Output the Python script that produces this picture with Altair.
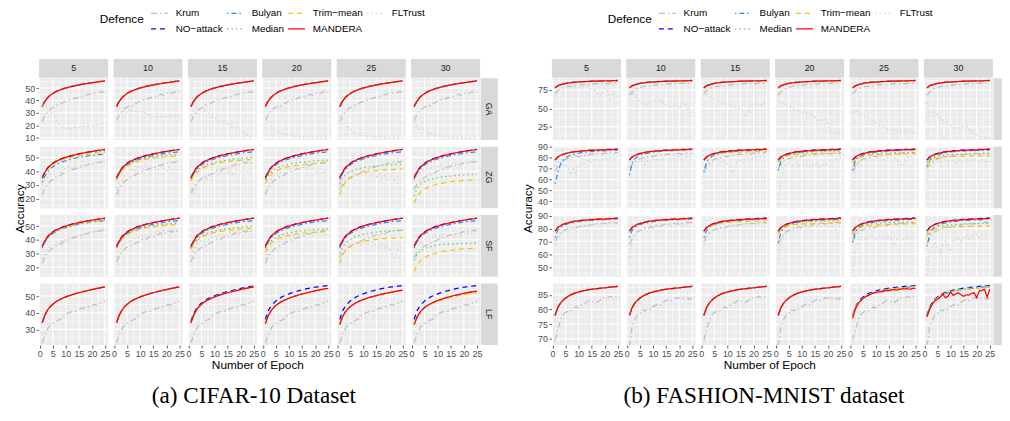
import altair as alt
import pandas as pd

# ---------------- categories / ticks ----------------
EPOCHS = list(range(1, 26))
COLUMNS = [5, 10, 15, 20, 25, 30]
ATTACKS = ["GA", "ZG", "SF", "LF"]
DRAW_ORDER = ["Krum", "NO−attack", "Bulyan", "Median", "Trim−mean", "MANDERA", "FLTrust"]
COLORS = ["#BEBEBE", "#0000FF", "#1E90FF", "#66CC66", "#FFC000", "#FF0000", "#D3D3D3"]
DASHES = [[6, 3, 1.5, 3], [5, 4], [1.5, 3, 5, 3], [1.5, 3], [5, 4], [1, 0], [1.5, 3]]

X_TICKS = [0, 5, 10, 15, 20, 25]
X_MINOR = [2.5, 7.5, 12.5, 17.5, 22.5]

C_Y_TICKS = {"GA": [10, 20, 30, 40, 50], "ZG": [20, 30, 40, 50], "SF": [20, 30, 40, 50], "LF": [30, 40, 50]}
C_Y_MINOR = {"GA": [15, 25, 35, 45, 55], "ZG": [15, 25, 35, 45, 55], "SF": [15, 25, 35, 45, 55], "LF": [25, 35, 45, 55]}
C_Y_DOMAIN = {"GA": [8.1, 57.9], "ZG": [13.1, 57.8], "SF": [13.1, 58.1], "LF": [20.6, 57.6]}
F_Y_TICKS = {"GA": [25, 50, 75], "ZG": [40, 50, 60, 70, 80, 90], "SF": [50, 60, 70, 80, 90], "LF": [70, 75, 80, 85]}
F_Y_MINOR = {"GA": [12.5, 37.5, 62.5, 87.5], "ZG": [35, 45, 55, 65, 75, 85], "SF": [45, 55, 65, 75, 85], "LF": [72.5, 77.5, 82.5, 87.5]}
F_Y_DOMAIN = {"GA": [7.0, 91.0], "ZG": [33.5, 90.3], "SF": [42.5, 90.5], "LF": [67.9, 88.9]}

# ---------------- CIFAR-10 series ----------------
C_MAIN = [35.0, 39.2, 42.0, 44.0, 45.6, 46.8, 47.8, 48.6, 49.4, 50.0, 50.6, 51.1, 51.6, 52.1, 52.5, 52.9, 53.3, 53.6, 54.0, 54.3, 54.6, 54.9, 55.2, 55.5, 55.8]
C_NOATT = [35.3, 39.5, 42.3, 44.3, 45.8, 47.0, 48.0, 48.8, 49.6, 50.2, 50.8, 51.3, 51.8, 52.2, 52.6, 53.0, 53.4, 53.7, 54.1, 54.4, 54.7, 55.0, 55.3, 55.6, 55.9]
C_KRUM_A = [23.0, 27.5, 30.5, 32.5, 34.0, 35.5, 36.5, 37.0, 38.5, 39.0, 40.0, 40.5, 41.5, 42.0, 42.5, 43.0, 44.0, 44.5, 45.0, 45.5, 46.0, 46.0, 46.5, 47.0, 47.0]
C_KRUM_B = [24.0, 28.0, 31.5, 33.0, 34.5, 36.0, 35.5, 37.5, 38.0, 39.5, 40.5, 40.0, 41.5, 42.5, 42.0, 43.5, 44.0, 45.0, 44.0, 45.5, 46.5, 45.5, 47.0, 46.0, 47.0]
C_KRUM_C = [27.0, 30.5, 32.5, 34.0, 35.5, 36.5, 37.0, 38.5, 39.0, 40.0, 41.0, 41.5, 42.0, 43.0, 43.5, 44.0, 44.5, 44.0, 45.5, 46.0, 45.5, 46.5, 47.0, 46.5, 47.5]
C_KRUM_LF = [22.0, 26.5, 30.0, 32.5, 33.5, 34.5, 35.5, 36.0, 38.0, 39.0, 40.0, 40.5, 41.0, 41.0, 42.0, 42.5, 43.0, 43.0, 44.0, 44.5, 45.0, 44.5, 45.5, 46.5, 47.0]

C_FLT_GA5 = [36, 37, 35, 32, 28, 25, 22, 19.5, 18, 17.5, 17.5, 17.5, 18, 18, 18.5, 18.5, 19, 19, 19.5, 19.5, 20, 20, 20.5, 21, 21]
C_FLT_GA10 = [33, 35, 31, 34, 30, 33, 31, 32, 31, 31, 30, 30, 29, 27.5, 27, 27, 26.5, 27, 27, 27, 27.5, 27.5, 27, 28, 28]
C_FLT_GA15 = [28, 32, 34, 34, 33, 32, 30.5, 29, 27.5, 26, 25, 24, 23, 22, 21, 20, 19, 18, 17, 15.5, 14.5, 13, 12, 11, 10]
C_FLT_GA20 = [25, 24, 21, 18, 16, 14.5, 13.5, 12.5, 12, 11.5, 11.5, 11, 11, 11, 10.5, 11, 10.5, 10.5, 10.5, 10.5, 10, 10.5, 10.5, 10, 10]
C_FLT_GA25 = [28, 25, 22, 19, 16.5, 15, 13.5, 12.5, 12, 11.5, 11, 11, 11, 10.5, 10.5, 10.5, 10, 10, 10, 10, 10, 10, 9.5, 9.5, 9.5]
C_FLT_GA30 = [27, 18, 17, 17, 16, 14.5, 13.5, 12.5, 12, 11.5, 11, 10.5, 10.5, 10, 10, 10, 10, 10, 10, 9.5, 9.5, 10, 9.5, 9.5, 9.5]
C_FLT_ZG5 = [30, 33, 36, 38, 39, 41, 42, 38, 41, 42, 43, 41, 43, 44, 42, 44, 45, 44, 46, 45, 46, 47, 46, 47, 47]
C_FLT_ZG10 = [28, 31, 34, 37, 38, 40, 42, 39, 43, 44, 41, 45, 42, 40, 44, 43, 41, 44, 42, 40, 43, 41, 40, 41, 40]
C_FLT_ZG15 = [27, 24, 30, 33, 35, 37, 34, 38, 36, 39, 41, 38, 40, 42, 39, 41, 38, 40, 41, 39, 40, 41, 39, 40, 40]
C_FLT_ZG20 = [25, 29, 33, 36, 38, 37, 40, 39, 42, 41, 43, 42, 44, 41, 43, 45, 42, 44, 43, 41, 40, 42, 38, 40, 39]
C_FLT_ZG25 = [30, 34, 37, 39, 40, 38, 41, 40, 42, 39, 38, 40, 37, 39, 36, 38, 35, 37, 34, 36, 35, 34, 36, 35, 35]
C_FLT_ZG30 = [33, 36, 38, 40, 41, 42, 43, 42, 44, 43, 45, 44, 43, 45, 44, 46, 45, 44, 46, 45, 46, 47, 46, 47, 47]
C_FLT_SF5 = [26, 30, 33, 35, 36, 37, 37.5, 39, 40, 40, 41, 42, 42.5, 43, 43.5, 44, 44, 45, 45.5, 46, 46, 46.5, 47, 47.5, 47.5]
C_FLT_SF10 = [27, 32, 35, 37, 38, 39, 40, 41, 42, 41.5, 43, 43.5, 44, 44.5, 45, 45, 45.5, 46, 46.5, 46, 47, 47, 47.5, 47, 48]
C_FLT_SF15 = [28, 33, 36, 38, 39.5, 40, 41, 40, 42, 43, 42, 44, 43, 45, 44, 45, 46, 45, 46, 45.5, 46, 47, 46, 46.5, 46]
C_FLT_SF20 = [26, 31, 35, 37, 38, 39, 40.5, 41, 40, 42, 43, 42, 44, 43, 44, 42, 44, 45, 43, 44, 45, 44, 43, 44, 44]
C_FLT_SF25 = [30, 33, 35, 36, 37, 36, 38, 37, 36, 38, 37, 36, 35, 37, 36, 35, 37, 34, 36, 33, 30, 27, 33, 34, 35]
C_FLT_SF30 = [30, 34, 37, 39, 40, 41, 40, 42, 41, 43, 42, 44, 43, 42, 44, 43, 45, 44, 43, 45, 44, 46, 45, 46, 46]

C_BUL_Z5 = [32.0, 36.5, 39.5, 41.5, 43.0, 44.3, 45.3, 46.2, 47.0, 47.6, 48.2, 48.7, 49.2, 49.6, 50.0, 50.3, 50.6, 50.9, 51.2, 51.4, 51.6, 51.8, 52.0, 52.2, 52.4]
C_BUL_B = [34.0, 38.3, 41.1, 43.1, 44.6, 45.8, 46.8, 47.6, 48.3, 48.9, 49.5, 50.0, 50.5, 50.9, 51.3, 51.7, 52.1, 52.4, 52.7, 53.0, 53.3, 53.5, 53.7, 53.9, 54.1]
C_MED_Z5 = [35.0, 39.0, 41.8, 43.8, 45.3, 46.5, 47.5, 48.3, 49.0, 49.7, 50.2, 50.7, 51.2, 51.6, 52.0, 52.4, 52.7, 53.0, 53.3, 53.6, 53.8, 54.1, 54.3, 54.5, 54.7]
C_TRIM_Z5 = [34.5, 38.5, 41.3, 43.3, 44.8, 46.0, 47.0, 47.8, 48.5, 49.1, 49.6, 50.1, 50.5, 50.9, 51.3, 51.6, 51.9, 52.2, 52.5, 52.7, 52.9, 53.1, 53.3, 53.5, 53.6]
C_MED_Z10 = [34.5, 38.5, 41.0, 42.9, 44.3, 45.4, 46.3, 47.1, 47.8, 48.4, 48.9, 49.3, 49.7, 50.0, 50.3, 50.6, 50.9, 51.1, 51.3, 51.5, 51.7, 51.8, 51.9, 52.0, 52.1]
C_TRIM_Z10 = [34.0, 38.0, 40.5, 42.3, 43.7, 44.8, 45.7, 46.4, 47.0, 47.6, 48.1, 48.5, 48.9, 49.2, 49.5, 49.8, 50.0, 50.2, 50.4, 50.6, 50.7, 50.8, 50.9, 51.0, 51.1]
C_MED_Z15 = [34.0, 37.5, 39.8, 41.5, 42.8, 43.8, 44.6, 45.3, 45.9, 46.4, 46.8, 47.2, 47.5, 47.8, 48.1, 48.4, 48.7, 48.9, 49.1, 49.3, 49.5, 49.7, 49.9, 50.1, 50.3]
C_TRIM_Z15 = [33.0, 36.5, 38.8, 40.5, 41.8, 42.8, 43.6, 44.3, 44.9, 45.4, 45.8, 46.1, 46.4, 46.7, 47.0, 47.2, 47.4, 47.6, 47.8, 48.0, 48.1, 48.2, 48.3, 48.4, 48.5]
C_MED_Z20 = [34.0, 37.0, 39.0, 40.5, 41.7, 42.7, 43.5, 44.1, 44.6, 45.0, 45.4, 45.7, 46.0, 46.3, 46.5, 46.7, 46.9, 47.1, 47.3, 47.5, 47.6, 47.7, 47.8, 47.9, 48.0]
C_TRIM_Z20 = [31.0, 35.0, 37.3, 38.9, 40.1, 41.0, 41.8, 42.4, 42.9, 43.3, 43.7, 44.0, 44.3, 44.5, 44.7, 44.9, 45.1, 45.3, 45.4, 45.5, 45.6, 45.7, 45.8, 45.9, 46.0]
C_MED_Z25 = [31.0, 35.0, 37.0, 38.4, 39.5, 40.4, 41.1, 41.7, 42.2, 42.6, 42.9, 43.2, 43.5, 43.7, 43.9, 44.1, 44.3, 44.4, 44.5, 44.6, 44.7, 44.8, 44.9, 45.0, 45.1]
C_TRIM_Z25 = [23.0, 28.5, 31.5, 33.5, 35.0, 36.2, 37.1, 37.8, 38.4, 38.9, 39.3, 39.6, 39.9, 40.2, 40.4, 40.6, 40.8, 40.9, 41.0, 41.1, 41.2, 41.3, 41.4, 41.5, 41.6]
C_MED_Z30 = [22.0, 27.5, 30.0, 31.5, 32.6, 33.4, 34.0, 34.5, 34.9, 35.3, 35.6, 35.9, 36.1, 36.3, 36.5, 36.7, 36.9, 37.0, 37.2, 37.3, 37.4, 37.5, 37.6, 37.7, 37.8]
C_TRIM_Z30 = [17.0, 21.5, 24.0, 25.8, 27.1, 28.1, 28.9, 29.6, 30.2, 30.7, 31.1, 31.5, 31.8, 32.1, 32.4, 32.6, 32.8, 33.0, 33.2, 33.4, 33.5, 33.6, 33.7, 33.8, 33.9]
C_TRIM_S5 = [34.8, 38.8, 41.6, 43.6, 45.1, 46.3, 47.3, 48.1, 48.8, 49.4, 49.9, 50.4, 50.9, 51.3, 51.7, 52.1, 52.4, 52.7, 53.0, 53.3, 53.5, 53.7, 53.9, 54.1, 54.3]
C_MED_S25 = [30.0, 34.5, 37.0, 38.8, 40.2, 41.3, 42.2, 42.9, 43.5, 44.0, 44.4, 44.8, 45.1, 45.4, 45.7, 45.9, 46.1, 46.3, 46.5, 46.6, 46.7, 46.8, 46.9, 47.0, 47.1]
C_MED_S30 = [25.0, 29.0, 31.2, 32.6, 33.6, 34.3, 34.9, 35.4, 35.8, 36.1, 36.4, 36.6, 36.8, 36.9, 37.0, 37.1, 37.2, 37.3, 37.3, 37.4, 37.4, 37.5, 37.5, 37.6, 37.6]

C_LF_MAIN = [34.0, 38.5, 41.5, 43.5, 45.0, 46.3, 47.3, 48.1, 48.8, 49.5, 50.1, 50.6, 51.1, 51.6, 52.0, 52.4, 52.8, 53.2, 53.6, 53.9, 54.3, 54.6, 54.9, 55.2, 55.5]
C_LF_NA_MID = [35.0, 39.5, 42.3, 44.3, 45.8, 47.0, 48.0, 48.8, 49.5, 50.2, 50.8, 51.3, 51.8, 52.3, 52.7, 53.1, 53.5, 53.9, 54.3, 54.6, 54.9, 55.2, 55.5, 55.8, 56.0]
C_LF_NA_HIGH = [36.0, 41.0, 43.5, 45.5, 47.0, 48.2, 49.2, 50.0, 50.7, 51.3, 51.9, 52.4, 52.9, 53.3, 53.7, 54.1, 54.4, 54.7, 55.0, 55.3, 55.5, 55.7, 55.9, 56.1, 56.3]
C_LF_LOW1 = [33.5, 38.0, 40.8, 42.8, 44.3, 45.5, 46.5, 47.3, 48.0, 48.7, 49.3, 49.8, 50.3, 50.8, 51.2, 51.6, 52.0, 52.4, 52.8, 53.1, 53.5, 53.8, 54.1, 54.4, 54.6]
C_LF_LOW2 = [33.0, 37.5, 40.2, 42.2, 43.6, 44.8, 45.8, 46.6, 47.3, 47.9, 48.5, 49.0, 49.5, 49.9, 50.3, 50.7, 51.1, 51.5, 51.8, 52.1, 52.4, 52.7, 53.0, 53.3, 53.5]
C_LF_LOW3 = [33.0, 37.0, 39.8, 41.7, 43.2, 44.3, 45.2, 46.0, 46.7, 47.3, 47.9, 48.4, 48.9, 49.4, 49.8, 50.2, 50.6, 50.9, 51.3, 51.6, 51.9, 52.2, 52.5, 52.8, 53.0]
C_LF_Y30 = [33.0, 36.8, 39.5, 41.4, 42.8, 43.9, 44.8, 45.6, 46.3, 46.9, 47.4, 47.9, 48.4, 48.8, 49.2, 49.6, 50.0, 50.3, 50.6, 50.9, 51.2, 51.4, 51.6, 51.8, 52.0]
C_LF_MED30 = [33.0, 37.2, 40.0, 41.8, 43.2, 44.3, 45.2, 46.0, 46.6, 47.2, 47.7, 48.2, 48.7, 49.1, 49.5, 49.9, 50.3, 50.6, 50.9, 51.2, 51.5, 51.8, 52.1, 52.3, 52.5]

# ---------------- FASHION-MNIST series ----------------
F_MAIN = [78.0, 80.6, 82.1, 83.1, 83.9, 84.5, 85.0, 85.4, 85.7, 86.0, 86.2, 86.4, 86.6, 86.8, 86.9, 87.0, 87.1, 87.2, 87.3, 87.4, 87.5, 87.6, 87.7, 87.8, 87.9]
F_NOATT = [78.2, 80.8, 82.3, 83.3, 84.1, 84.7, 85.2, 85.6, 85.9, 86.2, 86.4, 86.6, 86.8, 87.0, 87.1, 87.2, 87.3, 87.4, 87.5, 87.6, 87.7, 87.8, 87.9, 88.0, 88.1]
F_KRUM_A = [70, 74, 76.5, 78, 79, 80, 80, 81, 80.5, 81.5, 82, 82, 83, 82.5, 83, 83.5, 84, 83.5, 84, 84, 83.5, 84.5, 84.5, 84.5, 84]
F_KRUM_B = [68, 72, 75, 77.5, 78.5, 79.5, 80.5, 80, 81.5, 81, 82, 82.5, 82, 83, 83.5, 83, 84, 84, 83.5, 84.5, 84, 84.5, 85, 84.5, 85]
F_KRUM_LF1 = [69.5, 73.0, 76.0, 78.0, 79.0, 79.5, 79.5, 80.0, 81.0, 80.5, 81.5, 82.0, 82.5, 83.0, 82.5, 83.0, 82.5, 83.0, 84.0, 84.0, 84.0, 84.5, 84.0, 84.5, 84.5]
F_KRUM_LF2 = [67.5, 74.0, 76.5, 78.0, 78.5, 80.0, 79.5, 80.5, 80.0, 81.0, 81.5, 82.0, 81.5, 82.5, 83.0, 83.5, 83.0, 83.5, 84.0, 84.0, 83.5, 84.0, 84.0, 83.5, 84.0]

F_FLT_GA5 = [70, 74, 76, 78, 79, 80, 77, 79, 80, 78, 77, 79, 80, 78, 76, 75, 72, 66, 70, 78, 74, 63, 72, 70, 66]
F_FLT_GA10 = [74, 71, 68, 64, 60, 57, 55, 56, 58, 60, 62, 61, 60, 58, 55, 53, 51, 53, 55, 50, 55, 58, 52, 47, 40]
F_FLT_GA15 = [75, 70, 66, 64, 62, 61, 60, 58, 56, 55, 54, 52, 51, 50, 49, 45, 38, 48, 55, 56, 57, 56, 55, 58, 55]
F_FLT_GA20 = [61, 58, 57, 56, 54, 51, 49, 48, 46, 45, 44, 43, 42, 41, 38, 34, 33, 35, 36, 30, 18, 16, 17, 16, 18]
F_FLT_GA25 = [44, 47, 45, 43, 41, 39, 37, 35, 32, 29, 27, 26, 24, 22, 21, 21, 20, 19, 20, 19, 19, 18, 17, 17, 17]
F_FLT_GA30 = [58, 40, 45, 38, 42, 37, 34, 33, 30, 27, 24, 23, 24, 25, 24, 26, 22, 17, 15, 13, 12, 11, 10, 10, 10]
F_FLT_ZG5 = [72, 75, 78, 79, 73, 70, 64, 72, 63, 74, 76, 75, 77, 78, 76, 78, 79, 77, 78, 80, 79, 80, 79, 80, 81]
F_FLT_ZG10 = [70, 73, 76, 78, 75, 77, 74, 78, 76, 79, 78, 80, 77, 79, 80, 78, 80, 79, 80, 81, 79, 80, 81, 80, 81]
F_FLT_ZG15 = [62, 70, 74, 76, 77, 78, 76, 78, 77, 74, 72, 66, 73, 77, 78, 79, 78, 80, 79, 80, 81, 80, 81, 81, 82]
F_FLT_ZG20 = [37, 55, 72, 74, 75, 73, 74, 75, 72, 74, 73, 75, 72, 74, 73, 75, 72, 74, 73, 77, 78, 76, 79, 80, 80]
F_FLT_ZG25 = [53, 70, 76, 78, 79, 77, 79, 80, 78, 80, 79, 81, 78, 80, 81, 79, 80, 78, 75, 72, 78, 80, 81, 80, 81]
F_FLT_ZG30 = [60, 70, 74, 76, 77, 75, 77, 78, 76, 78, 77, 75, 78, 77, 76, 78, 77, 76, 78, 77, 76, 78, 77, 76, 77]
F_FLT_SF5 = [67, 72, 75, 77, 78, 79, 79, 80, 80, 81, 81, 82, 82, 82, 83, 83, 83, 83, 84, 84, 84, 84, 84, 85, 85]
F_FLT_SF10 = [57, 70, 75, 77, 78, 79, 80, 79, 81, 80, 82, 81, 82, 83, 82, 83, 82, 84, 83, 83, 84, 83, 84, 84, 84]
F_FLT_SF15 = [67, 73, 76, 78, 79, 80, 79, 81, 80, 82, 81, 82, 83, 82, 83, 84, 83, 84, 83, 84, 84, 85, 84, 85, 85]
F_FLT_SF20 = [56, 68, 74, 77, 78, 79, 78, 80, 79, 80, 81, 80, 81, 82, 81, 82, 81, 82, 83, 82, 81, 82, 80, 81, 81]
F_FLT_SF25 = [47, 62, 70, 73, 74, 72, 74, 75, 73, 72, 74, 73, 75, 72, 74, 70, 67, 72, 74, 73, 71, 74, 72, 74, 75]
F_FLT_SF30 = [44, 62, 66, 70, 64, 60, 68, 70, 66, 62, 72, 70, 74, 70, 73, 75, 72, 74, 75, 76, 73, 75, 74, 76, 75]

F_BUL_Z5 = [56.0, 66.0, 73.5, 77.5, 80.0, 81.5, 82.5, 83.2, 83.8, 84.3, 84.7, 85.0, 85.3, 85.6, 85.8, 86.0, 86.2, 86.3, 86.5, 86.6, 86.7, 86.8, 86.9, 87.0, 87.1]
F_BUL_Z10 = [64.0, 75.0, 79.0, 81.0, 82.3, 83.2, 83.9, 84.4, 84.8, 85.2, 85.5, 85.8, 86.0, 86.2, 86.4, 86.6, 86.7, 86.9, 87.0, 87.1, 87.2, 87.3, 87.4, 87.5, 87.6]
F_BUL_Z15 = [66.5, 76.0, 79.5, 81.3, 82.5, 83.4, 84.0, 84.5, 84.9, 85.2, 85.5, 85.8, 86.0, 86.2, 86.4, 86.5, 86.7, 86.8, 86.9, 87.0, 87.1, 87.2, 87.3, 87.4, 87.5]
F_BUL_Z20 = [68.5, 76.5, 79.8, 81.5, 82.7, 83.5, 84.1, 84.6, 85.0, 85.3, 85.6, 85.8, 86.0, 86.2, 86.4, 86.5, 86.6, 86.7, 86.8, 86.9, 87.0, 87.1, 87.2, 87.3, 87.4]
F_BUL_Z30 = [72.0, 77.5, 80.3, 81.8, 82.9, 83.7, 84.3, 84.7, 85.1, 85.4, 85.6, 85.8, 86.0, 86.2, 86.3, 86.4, 86.5, 86.6, 86.7, 86.8, 86.9, 87.0, 87.1, 87.2, 87.3]
F_BUL_S1 = [73.0, 78.5, 80.8, 82.1, 83.0, 83.7, 84.2, 84.6, 85.0, 85.3, 85.6, 85.8, 86.0, 86.2, 86.4, 86.5, 86.7, 86.8, 86.9, 87.0, 87.1, 87.2, 87.3, 87.4, 87.5]
F_BUL_S2 = [69.0, 77.0, 80.0, 81.6, 82.7, 83.5, 84.1, 84.6, 85.0, 85.3, 85.6, 85.8, 86.0, 86.2, 86.3, 86.4, 86.5, 86.6, 86.7, 86.8, 86.9, 87.0, 87.1, 87.2, 87.3]
F_BUL_S3 = [66.0, 75.5, 79.3, 81.2, 82.4, 83.3, 83.9, 84.4, 84.8, 85.1, 85.4, 85.6, 85.8, 86.0, 86.2, 86.3, 86.4, 86.5, 86.6, 86.7, 86.8, 86.9, 87.0, 87.1, 87.2]
F_TRIM_15 = [77.5, 80.0, 81.5, 82.5, 83.1, 83.6, 84.0, 84.3, 84.5, 84.7, 84.9, 85.0, 85.1, 85.2, 85.3, 85.4, 85.5, 85.5, 85.6, 85.6, 85.7, 85.7, 85.8, 85.8, 85.9]
F_TRIM_20 = [76.0, 79.0, 80.5, 81.5, 82.2, 82.7, 83.0, 83.2, 83.4, 83.5, 83.6, 83.7, 83.8, 83.8, 83.9, 84.0, 84.0, 84.1, 84.1, 84.2, 84.2, 84.3, 84.3, 84.4, 84.4]
F_MED_20 = [77.0, 80.0, 81.5, 82.5, 83.2, 83.7, 84.1, 84.4, 84.7, 84.9, 85.1, 85.2, 85.3, 85.4, 85.5, 85.6, 85.7, 85.8, 85.9, 85.9, 86.0, 86.0, 86.1, 86.1, 86.2]
F_TRIM_25 = [75.0, 78.0, 79.7, 80.7, 81.3, 81.8, 82.1, 82.4, 82.6, 82.8, 82.9, 83.0, 83.1, 83.2, 83.3, 83.4, 83.4, 83.5, 83.5, 83.6, 83.6, 83.7, 83.7, 83.8, 83.8]
F_MED_25 = [76.0, 79.0, 80.7, 81.8, 82.5, 83.0, 83.4, 83.7, 83.9, 84.1, 84.2, 84.3, 84.4, 84.5, 84.6, 84.6, 84.7, 84.7, 84.8, 84.8, 84.9, 84.9, 85.0, 85.0, 85.0]
F_TRIM_30 = [74.0, 77.0, 78.5, 79.5, 80.0, 80.4, 80.7, 80.9, 81.1, 81.2, 81.3, 81.4, 81.5, 81.5, 81.6, 81.7, 81.7, 81.8, 81.8, 81.9, 81.9, 82.0, 82.0, 82.0, 82.1]
F_MED_30 = [76.0, 78.5, 80.0, 81.0, 81.6, 82.0, 82.3, 82.6, 82.8, 83.0, 83.1, 83.2, 83.3, 83.4, 83.5, 83.6, 83.6, 83.7, 83.8, 83.8, 83.9, 83.9, 84.0, 84.0, 84.1]
F_LF_NA = [78.0, 80.8, 82.4, 83.5, 84.3, 84.9, 85.4, 85.8, 86.1, 86.4, 86.6, 86.8, 87.0, 87.1, 87.3, 87.4, 87.5, 87.6, 87.7, 87.8, 87.9, 88.0, 88.0, 88.1, 88.2]
F_LF_R25 = [77.0, 80.0, 81.8, 82.9, 83.8, 84.4, 84.8, 85.3, 85.6, 85.8, 86.0, 86.0, 86.3, 86.5, 86.4, 86.7, 86.8, 86.6, 86.9, 87.0, 87.0, 87.1, 86.9, 87.2, 87.2]
F_LF_R30 = [77.5, 80.0, 81.8, 83.0, 83.5, 84.2, 85.3, 84.0, 84.5, 86.0, 84.8, 85.3, 85.7, 85.0, 84.5, 85.0, 84.9, 85.5, 85.7, 84.0, 86.3, 86.5, 86.9, 84.2, 86.9]
F_LF_Y30 = [77.5, 80.3, 82.0, 83.1, 83.9, 84.5, 85.0, 85.4, 85.7, 86.0, 86.2, 86.4, 86.5, 86.6, 86.7, 86.8, 86.9, 87.0, 87.1, 87.2, 87.2, 87.3, 87.4, 87.5, 87.5]

# ---------------- which series goes in which panel ----------------
CIFAR_MAP = {
    "Krum": {"GA": [C_KRUM_A, C_KRUM_B, C_KRUM_A, C_KRUM_B, C_KRUM_A, C_KRUM_B],
             "ZG": [C_KRUM_A, C_KRUM_A, C_KRUM_B, C_KRUM_A, C_KRUM_C, C_KRUM_C],
             "SF": [C_KRUM_A, C_KRUM_B, C_KRUM_B, C_KRUM_A, C_KRUM_C, C_KRUM_C],
             "LF": [C_KRUM_LF] * 6},
    "NO−attack": {"GA": [C_NOATT] * 6, "ZG": [C_NOATT] * 6, "SF": [C_NOATT] * 6,
                  "LF": [C_LF_MAIN, C_LF_MAIN, C_LF_NA_MID, C_LF_NA_HIGH, C_LF_NA_HIGH, C_LF_NA_HIGH]},
    "Bulyan": {"GA": [C_MAIN] * 6, "ZG": [C_BUL_Z5] + [C_BUL_B] * 5, "SF": [C_BUL_B] * 6,
               "LF": [C_LF_MAIN] * 3 + [C_LF_LOW1, C_LF_LOW2, C_LF_LOW3]},
    "Median": {"GA": [C_MAIN] * 6,
               "ZG": [C_MED_Z5, C_MED_Z10, C_MED_Z15, C_MED_Z20, C_MED_Z25, C_MED_Z30],
               "SF": [C_MED_Z5, C_MED_Z10, C_MED_Z15, C_MED_Z20, C_MED_S25, C_MED_S30],
               "LF": [C_LF_MAIN] * 3 + [C_LF_LOW1, C_LF_LOW2, C_LF_MED30]},
    "Trim−mean": {"GA": [C_MAIN] * 6,
                  "ZG": [C_TRIM_Z5, C_TRIM_Z10, C_TRIM_Z15, C_TRIM_Z20, C_TRIM_Z25, C_TRIM_Z30],
                  "SF": [C_TRIM_S5, C_TRIM_Z10, C_TRIM_Z15, C_TRIM_Z20, C_TRIM_Z25, C_TRIM_Z30],
                  "LF": [C_LF_MAIN] * 3 + [C_LF_LOW1, C_LF_LOW2, C_LF_Y30]},
    "MANDERA": {"GA": [C_MAIN] * 6, "ZG": [C_MAIN] * 6, "SF": [C_MAIN] * 6,
                "LF": [C_LF_MAIN] * 3 + [C_LF_LOW1, C_LF_LOW2, C_LF_LOW3]},
    "FLTrust": {"GA": [C_FLT_GA5, C_FLT_GA10, C_FLT_GA15, C_FLT_GA20, C_FLT_GA25, C_FLT_GA30],
                "ZG": [C_FLT_ZG5, C_FLT_ZG10, C_FLT_ZG15, C_FLT_ZG20, C_FLT_ZG25, C_FLT_ZG30],
                "SF": [C_FLT_SF5, C_FLT_SF10, C_FLT_SF15, C_FLT_SF20, C_FLT_SF25, C_FLT_SF30],
                "LF": [None] * 6},
}
FMNIST_MAP = {
    "Krum": {"GA": [F_KRUM_A, F_KRUM_B] * 3, "ZG": [F_KRUM_B, F_KRUM_A] * 3,
             "SF": [F_KRUM_A, F_KRUM_B] * 3, "LF": [F_KRUM_LF1, F_KRUM_LF2] * 3},
    "NO−attack": {"GA": [F_NOATT] * 6, "ZG": [F_NOATT] * 6, "SF": [F_NOATT] * 6,
                  "LF": [F_MAIN] * 4 + [F_LF_NA, F_LF_NA]},
    "Bulyan": {"GA": [F_MAIN] * 6,
               "ZG": [F_BUL_Z5, F_BUL_Z10, F_BUL_Z15, F_BUL_Z20, F_BUL_Z20, F_BUL_Z30],
               "SF": [F_BUL_S1, F_BUL_S1, F_BUL_S1, F_BUL_S2, F_BUL_S2, F_BUL_S3],
               "LF": [F_MAIN] * 6},
    "Median": {"GA": [F_MAIN] * 6, "ZG": [F_MAIN] * 3 + [F_MED_20, F_MED_25, F_MED_30],
               "SF": [F_MAIN] * 3 + [F_MED_20, F_MED_25, F_MED_30], "LF": [F_MAIN] * 5 + [F_LF_NA]},
    "Trim−mean": {"GA": [F_MAIN] * 6, "ZG": [F_MAIN, F_MAIN, F_TRIM_15, F_TRIM_20, F_TRIM_25, F_TRIM_30],
                  "SF": [F_MAIN, F_MAIN, F_TRIM_15, F_TRIM_20, F_TRIM_25, F_TRIM_30],
                  "LF": [F_MAIN] * 5 + [F_LF_Y30]},
    "MANDERA": {"GA": [F_MAIN] * 6, "ZG": [F_MAIN] * 6, "SF": [F_MAIN] * 6,
                "LF": [F_MAIN] * 4 + [F_LF_R25, F_LF_R30]},
    "FLTrust": {"GA": [F_FLT_GA5, F_FLT_GA10, F_FLT_GA15, F_FLT_GA20, F_FLT_GA25, F_FLT_GA30],
                "ZG": [F_FLT_ZG5, F_FLT_ZG10, F_FLT_ZG15, F_FLT_ZG20, F_FLT_ZG25, F_FLT_ZG30],
                "SF": [F_FLT_SF5, F_FLT_SF10, F_FLT_SF15, F_FLT_SF20, F_FLT_SF25, F_FLT_SF30],
                "LF": [None] * 6},
}

# ---------------- styling ----------------
FONT = "Liberation Sans"
W, H = 70, 62.5
PANEL_GAP, ROW_GAP = 5.4, 6.3
STRIP_FILL, STRIP_TEXT = "#D9D9D9", "#1A1A1A"


def make_legend(lx):
    return alt.Legend(title="Defence", orient="none", legendX=lx, legendY=-75.5, columns=4,
                      symbolType="stroke", symbolSize=289, symbolStrokeWidth=1.3,
                      labelFontSize=10, labelFont=FONT, labelColor="black", labelOffset=7,
                      titleFontSize=12, titleFont=FONT, titleFontWeight="normal", titleColor="black",
                      titleOrient="left", titleAnchor="middle", titleBaseline="middle", titlePadding=6,
                      columnPadding=1, rowPadding=1, padding=0, offset=0)


def axis(values):
    return alt.Axis(values=values, format="d", grid=False, domain=False, tickSize=3,
                    tickColor="#333333", tickWidth=0.8, labelFontSize=9, labelFont=FONT,
                    labelColor="#4D4D4D", labelPadding=1.5, labelFlush=False,
                    labelOverlap=False, labelBound=False, title=None)


def make_panel(mapping, attack, r, c, ydom, yticks, yminor, strip_w, strip_text, lx):
    col = COLUMNS[c]
    xs = alt.Scale(domain=[-0.2, 26.2], nice=False, zero=False)
    ys = alt.Scale(domain=ydom, nice=False, zero=False)
    xax = axis(X_TICKS) if r == 3 else None
    yax = axis(yticks) if c == 0 else None
    X = alt.X("epoch:Q", scale=xs, axis=xax, title=None)
    Y = alt.Y("acc:Q", scale=ys, axis=yax, title=None)

    recs = []
    for s in DRAW_ORDER:
        vals = mapping[s][attack][c]
        if vals is None:
            continue
        for e, v in zip(EPOCHS, vals):
            recs.append({"epoch": e, "acc": v, "Defence": s})
    df = pd.DataFrame(recs)

    leg = make_legend(lx)
    layers = [
        alt.Chart(pd.DataFrame({"epoch": X_MINOR})).mark_rule(color="white", strokeWidth=0.5).encode(x=X),
        alt.Chart(pd.DataFrame({"acc": yminor})).mark_rule(color="white", strokeWidth=0.5, clip=True).encode(y=Y),
        alt.Chart(pd.DataFrame({"epoch": X_TICKS})).mark_rule(color="white", strokeWidth=1.1).encode(x=X),
        alt.Chart(pd.DataFrame({"acc": yticks})).mark_rule(color="white", strokeWidth=1.1, clip=True).encode(y=Y),
        alt.Chart(df).mark_line(strokeWidth=1.25, clip=True).encode(
            x=X, y=Y,
            color=alt.Color("Defence:N", scale=alt.Scale(domain=DRAW_ORDER, range=COLORS), legend=leg),
            strokeDash=alt.StrokeDash("Defence:N", scale=alt.Scale(domain=DRAW_ORDER, range=DASHES), legend=leg),
        ),
    ]
    if r == 0:
        sd = pd.DataFrame({"lab": [str(col)]})
        layers.append(alt.Chart(sd).mark_rect(color=STRIP_FILL).encode(
            x=alt.value(0), x2=alt.value(W), y=alt.value(-19.5), y2=alt.value(-0.6)))
        layers.append(alt.Chart(sd).mark_text(fontSize=9, font=FONT, color=STRIP_TEXT, baseline="middle").encode(
            x=alt.value(W / 2), y=alt.value(-10), text="lab:N"))
    if c == 5:
        sd = pd.DataFrame({"lab": [attack]})
        layers.append(alt.Chart(sd).mark_rect(color=STRIP_FILL).encode(
            x=alt.value(W + 0.6), x2=alt.value(W + strip_w), y=alt.value(0), y2=alt.value(H)))
        if strip_text:
            layers.append(alt.Chart(sd).mark_text(fontSize=9, font=FONT, color=STRIP_TEXT, angle=90,
                                                  baseline="middle").encode(
                x=alt.value(W + 0.6 + (strip_w - 0.6) / 2), y=alt.value(H / 2), text="lab:N"))
    return alt.layer(*layers).properties(width=W, height=H)


def make_grid(mapping, ydoms, yticks, yminors, strip_w, strip_text, caption, acc_off, epoch_dx, cap_dx, lx):
    panels = []
    for r, attack in enumerate(ATTACKS):
        for c in range(6):
            panels.append(make_panel(mapping, attack, r, c, ydoms[attack], yticks[attack],
                                     yminors[attack], strip_w, strip_text, lx))
    g0 = alt.concat(*panels, columns=6, spacing={"row": ROW_GAP, "column": PANEL_GAP}, bounds="flush",
                    title=alt.TitleParams("Accuracy", orient="left", anchor="middle", fontSize=12, font=FONT,
                                          fontWeight="normal", color="black", offset=acc_off))
    g1 = alt.vconcat(g0, title=alt.TitleParams(
        "Number of Epoch", orient="bottom", anchor="middle", fontSize=12, font=FONT, fontWeight="normal",
        color="black", offset=2, dx=epoch_dx))
    g2 = alt.vconcat(g1, title=alt.TitleParams(
        caption, orient="bottom", anchor="middle", fontSize=23.5, font="Liberation Serif",
        fontWeight="normal", color="black", offset=13, dx=cap_dx))
    return g2


left = make_grid(CIFAR_MAP, C_Y_DOMAIN, C_Y_TICKS, C_Y_MINOR, 18, True,
                 "(a) CIFAR-10 Dataset", -2, 2, -2, 61.5)
right = make_grid(FMNIST_MAP, F_Y_DOMAIN, F_Y_TICKS, F_Y_MINOR, 9, False,
                  "(b) FASHION-MNIST dataset", 2.7, 8, 2, 56.5)

chart = alt.hconcat(left, right, spacing=23.8).resolve_scale(
    color="independent", strokeDash="independent"
).properties(
    padding={"left": 5.5, "top": -7.5, "right": 0, "bottom": 0}, background="white"
).configure(font=FONT).configure_view(stroke=None, fill="#EBEBEB")

chart.save("out.html", embed_options={"renderer": "svg", "actions": False})
